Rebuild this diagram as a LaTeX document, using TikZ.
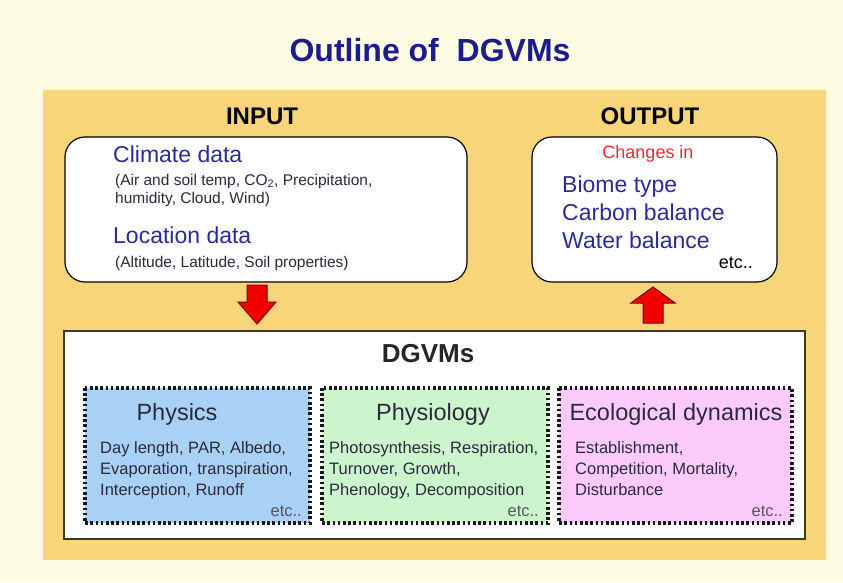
\documentclass[tikz,border=0pt]{standalone}
\usepackage{fontspec}
\setmainfont{Liberation Sans}
\definecolor{bgyellow}{HTML}{FEFDE4}
\definecolor{panel}{HTML}{F9D57A}
\definecolor{navy}{HTML}{1C1C8C}
\definecolor{dblue}{HTML}{2A2A9A}
\definecolor{txt}{HTML}{2A2A3C}
\definecolor{physblue}{HTML}{A9D1F5}
\definecolor{physgreen}{HTML}{CDF5CD}
\definecolor{ecopink}{HTML}{FCCBFC}
\definecolor{olive}{HTML}{3A3A20}
\definecolor{arrowred}{HTML}{F20000}
\definecolor{arrowedge}{HTML}{7A0000}
\definecolor{chred}{HTML}{F0283C}
\newcommand{\fs}[1]{\fontsize{#1}{#1}\selectfont}
\tikzset{
  roundbox/.style={draw=black, line width=1.2pt, fill=white, rounded corners=20pt},
  dotbox/.style={draw=black!90, line width=3.4pt, dash pattern=on 2.6pt off 2.6pt},
  txtl/.style={anchor=base west, inner sep=0pt},
  txtc/.style={anchor=base, inner sep=0pt},
  txtr/.style={anchor=base east, inner sep=0pt},
  hdr/.style={txtc, font=\fs{24}\bfseries, text=black},
  big/.style={txtl, font=\fs{23}, text=dblue},
  small/.style={txtl, font=\fs{15.5}, text=txt},
  body/.style={txtl, font=\fs{16.5}, text=txt},
  subtitle/.style={txtc, font=\fs{23.5}, text=txt},
  etcr/.style={txtr, font=\fs{16.5}, text=txt!80},
  blockarrow/.style={fill=arrowred, draw=arrowedge, line width=1pt, line join=miter}
}
\begin{document}
\begin{tikzpicture}[x=1pt,y=-1pt]
\useasboundingbox (0,0) rectangle (843,582);
\fill[bgyellow] (0,0) rectangle (843,582);
\fill[panel] (43,90) rectangle (826,560);

\node[txtc, font=\fs{32}\bfseries, text=navy] (title) at (430,61) {Outline of\ \ DGVMs};
\node[hdr] (inlbl) at (262,124) {INPUT};
\node[hdr] (outlbl) at (650,124) {OUTPUT};

% input box
\draw[roundbox] (65,137) rectangle (467,282);
\node[big] (clim) at (113,162) {Climate data};
\node[small] (clim1) at (115,185) {(Air and soil temp, CO\textsubscript{2}, Precipitation,};
\node[small] (clim2) at (115,203) {humidity, Cloud, Wind)};
\node[big] (loc) at (113,243) {Location data};
\node[small] (loc1) at (115,267) {(Altitude, Latitude, Soil properties)};

% output box
\draw[roundbox] (532,137) rectangle (777,282);
\node[txtc, font=\fs{18}, text=chred] (chg) at (648,158) {Changes in};
\node[big] (biome) at (562,192) {Biome type};
\node[big] (carb) at (562,220) {Carbon balance};
\node[big] (wat) at (562,248) {Water balance};
\node[txtr, font=\fs{18}, text=black] (oetc) at (753,268) {etc..};

% arrows
\draw[blockarrow] (247,285) -- (267,285) -- (267,302) -- (276,302) -- (257,324) -- (238,302) -- (247,302) -- cycle;
\draw[blockarrow] (643,323) -- (663,323) -- (663,303) -- (675,303) -- (653,287) -- (631,303) -- (643,303) -- cycle;

% DGVMs box
\draw[draw=olive, line width=2pt, fill=white] (64,331) rectangle (805,539);
\node[txtc, font=\fs{26}\bfseries, text=black!85] (dg) at (428,362) {DGVMs};

% Physics
\fill[physblue] (85,388) rectangle (310,523);
\draw[dotbox] (85,388) rectangle (310,523);
\node[subtitle] (phys) at (177,420) {Physics};
\node[body] (p1) at (100,453) {Day length, PAR, Albedo,};
\node[body] (p2) at (100,474) {Evaporation, transpiration,};
\node[body] (p3) at (100,495) {Interception, Runoff};
\node[etcr] (p4) at (302,516) {etc..};

% Physiology
\fill[physgreen] (322,388) rectangle (548,523);
\draw[dotbox] (322,388) rectangle (548,523);
\node[subtitle] (physio) at (433,420) {Physiology};
\node[body] (g1) at (329,453) {Photosynthesis, Respiration,};
\node[body] (g2) at (329,474) {Turnover, Growth,};
\node[body] (g3) at (329,495) {Phenology, Decomposition};
\node[etcr] (g4) at (539,516) {etc..};

% Ecological dynamics
\fill[ecopink] (559,388) rectangle (792,523);
\draw[dotbox] (559,388) rectangle (792,523);
\node[subtitle] (eco) at (676,420) {Ecological dynamics};
\node[body] (e1) at (575,453) {Establishment,};
\node[body] (e2) at (575,474) {Competition, Mortality,};
\node[body] (e3) at (575,495) {Disturbance};
\node[etcr] (e4) at (783,516) {etc..};
\end{tikzpicture}
\end{document}
